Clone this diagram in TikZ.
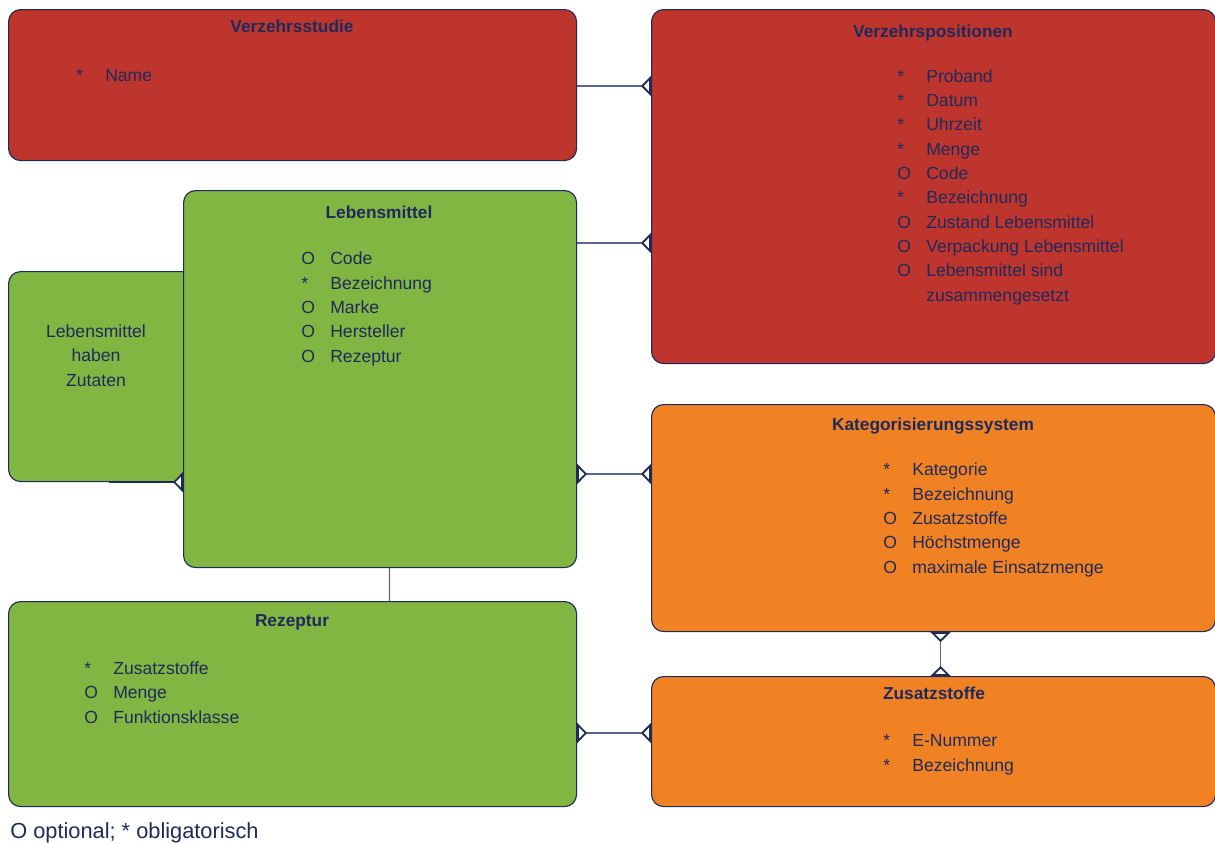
\documentclass[tikz,border=0pt]{standalone}
\usepackage{fontspec}
\setmainfont{Liberation Sans}
\usepackage{tikz}
\usetikzlibrary{arrows.meta, positioning, calc}

\definecolor{boxred}{HTML}{BD352D}
\definecolor{boxgreen}{HTML}{82B642}
\definecolor{boxorange}{HTML}{F18223}
\definecolor{navy}{HTML}{1F2A5C}
\definecolor{linkgrey}{HTML}{5A6591}

\newcommand{\pxl}{0.025cm}
\newcommand{\attrline}[2]{\makebox[0.725cm][l]{#1}#2}

\begin{document}
\begin{tikzpicture}[
		x=0.025cm, y=-0.025cm,
		entity/.style={
			rectangle,
			rounded corners=0.3cm,
			draw=navy,
			line width=0.8pt,
			inner sep=0pt,
			anchor=north west
		},
		title/.style={
			font=\bfseries\fontsize{12.3}{15}\selectfont,
			text=navy,
			inner sep=0pt,
			anchor=base
		},
		attrs/.style={
			font=\fontsize{12.5}{17.3}\selectfont,
			text=navy,
			align=left,
			inner sep=0pt,
			anchor=base west
		},
		link/.style={
			draw=linkgrey,
			line width=0.9pt
		},
		crow/.tip={Triangle[reversed, length=0.25cm, width=0.5cm, line width=1.3pt, color=navy, fill=white]}
	]
	\useasboundingbox (0,0) rectangle (1215,843);
	
	% entities
	\node[entity, fill=boxred, minimum width=568*\pxl, minimum height=151*\pxl] (studie) at (8,9) {};
	\node[entity, fill=boxred, minimum width=564*\pxl, minimum height=354*\pxl] (pos) at (651,9) {};
	\node[entity, fill=boxgreen, minimum width=200*\pxl, minimum height=210*\pxl] (zut) at (8,271) {};
	\node[entity, fill=boxgreen, minimum width=393*\pxl, minimum height=377*\pxl] (lm) at (183,190) {};
	\node[entity, fill=boxorange, minimum width=564*\pxl, minimum height=227*\pxl] (kat) at (651,404) {};
	\node[entity, fill=boxorange, minimum width=564*\pxl, minimum height=130*\pxl] (zus) at (651,676) {};
	\node[entity, fill=boxgreen, minimum width=568*\pxl, minimum height=205*\pxl] (rez) at (8,601) {};
	
	% titles
	\node[title] (studieT) at (292,32) {Verzehrsstudie};
	\node[title] (posT) at (933,37) {Verzehrspositionen};
	\node[title] (lmT) at (379,218) {Lebensmittel};
	\node[title] (katT) at (933,430) {Kategorisierungssystem};
	\node[title] (zusT) at (934,699) {Zusatzstoffe};
	\node[title] (rezT) at (292,626) {Rezeptur};
	
	% attributes (placed at the baseline of the last line)
	\node[attrs] (studieA) at (76,81) {\attrline{*}{Name}};
	\node[attrs] (posA) at (897,301) {\attrline{*}{Proband}\\ \attrline{*}{Datum}\\ \attrline{*}{Uhrzeit}\\
		\attrline{*}{Menge}\\ \attrline{O}{Code}\\ \attrline{*}{Bezeichnung}\\ \attrline{O}{Zustand Lebensmittel}\\
		\attrline{O}{Verpackung Lebensmittel}\\ \attrline{O}{Lebensmittel sind}\\ \attrline{}{zusammengesetzt}};
	\node[attrs] (lmA) at (301,362) {\attrline{O}{Code}\\ \attrline{*}{Bezeichnung}\\ \attrline{O}{Marke}\\
		\attrline{O}{Hersteller}\\ \attrline{O}{Rezeptur}};
	\node[attrs] (katA) at (883,573) {\attrline{*}{Kategorie}\\ \attrline{*}{Bezeichnung}\\ \attrline{O}{Zusatzstoffe}\\
		\attrline{O}{Höchstmenge}\\ \attrline{O}{maximale Einsatzmenge}};
	\node[attrs] (zusA) at (883,771) {\attrline{*}{E-Nummer}\\ \attrline{*}{Bezeichnung}};
	\node[attrs] (rezA) at (84,723) {\attrline{*}{Zusatzstoffe}\\ \attrline{O}{Menge}\\ \attrline{O}{Funktionsklasse}};
	\node[attrs, align=center, anchor=base] (zutA) at (96,386) {Lebensmittel\\ haben\\ Zutaten};
	
	\node[attrs, font=\fontsize{15.5}{18}\selectfont] (legend) at (10,838) {O optional; * obligatorisch};
	
	% relations
	\draw[link, -crow] ($(studie.north east)+(0,77)$) -- ($(studie.north east -| pos.west)+(0,77)$);
	\draw[link, -crow] ($(lm.north east)+(0,53)$) -- ($(lm.north east -| pos.west)+(0,53)$);
	\draw[link, crow-crow] ($(lm.north east)+(0,284)$) -- ($(lm.north east -| kat.west)+(0,284)$);
	\draw[link, crow-crow] ($(kat.south)+(7,0)$) -- ($(zus.north)+(7,0)$);
	\draw[link, crow-crow] ($(rez.north east)+(0,132)$) -- ($(rez.north east -| zus.west)+(0,132)$);
	\draw[link] ($(lm.south)+(9.5,0)$) -- ($(rez.north)+(97,0)$);
	\draw[draw=navy, line width=0.8pt, -crow] (zut.south) -- (zut.south -| lm.west);
	
\end{tikzpicture}
\end{document}
